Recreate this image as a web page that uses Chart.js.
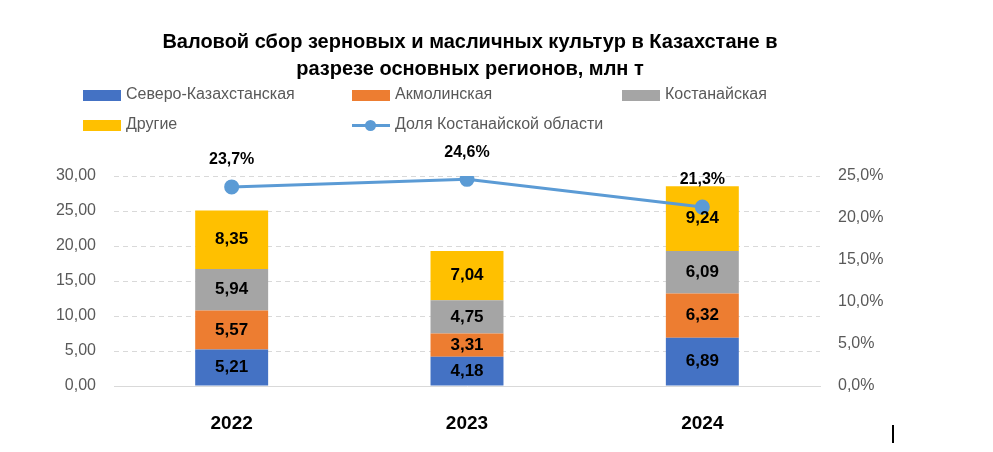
<!DOCTYPE html>
<html>
<head>
<meta charset="utf-8">
<script src="https://cdn.jsdelivr.net/npm/chart.js@4"></script>
<style>
  body { margin: 0; background: #fff; }
  #wrap { position: relative; width: 993px; height: 452px; font-family: "Liberation Sans", Arial, sans-serif; }
  #title { position: absolute; left: 0; width: 940px; top: 28px; text-align: center; font-weight: bold; font-size: 20px; line-height: 27px; color: #000; }
  .leg { position: absolute; font-size: 16px; color: #595959; white-space: nowrap; }
  .sw { position: absolute; width: 38px; height: 11px; }
  .ln { position: absolute; width: 38px; height: 3px; }
  .dot { position: absolute; width: 11px; height: 11px; border-radius: 50%; }
  #cursor { position: absolute; left: 892px; top: 425px; width: 2px; height: 18px; background: #000; }
</style>
</head>
<body>
<div id="wrap">
  <canvas id="grain_chart" width="993" height="452"></canvas>
  <div id="title">Валовой сбор зерновых и масличных культур в Казахстане в<br>разрезе основных регионов, млн т</div>
  <div id="legend"></div>
  <div id="cursor"></div>
</div>
<script>
var years = ["2022", "2023", "2024"];
var north_kaz = [5.21, 4.18, 6.89];
var akmola = [5.57, 3.31, 6.32];
var kostanay = [5.94, 4.75, 6.09];
var others = [8.35, 7.04, 9.24];
var kostanay_share = [23.7, 24.6, 21.3];

var tickColor = "#595959";
var gridColor = "#d9d9d9";

function fmtNum(v, d) {
  return v.toFixed(d).replace(".", ",");
}

// draws values inside bars and above the line points
var valueLabels = {
  id: "valueLabels",
  afterDatasetsDraw: function (chart) {
    var ctx = chart.ctx;
    ctx.save();
    ctx.textAlign = "center";
    ctx.textBaseline = "middle";
    ctx.fillStyle = "#000";
    chart.data.datasets.forEach(function (ds, i) {
      var meta = chart.getDatasetMeta(i);
      meta.data.forEach(function (el, j) {
        if (ds.type === "line") {
          ctx.font = "bold 16px 'Liberation Sans', Arial, sans-serif";
          ctx.fillText(fmtNum(ds.data[j], 1) + "%", el.x, el.y - 27);
        } else {
          ctx.font = "bold 17px 'Liberation Sans', Arial, sans-serif";
          ctx.fillText(fmtNum(ds.data[j], 2), el.x, (el.y + el.base) / 2);
        }
      });
    });
    ctx.restore();
  },
};

var chart = new Chart(document.getElementById("grain_chart"), {
  type: "bar",
  data: {
    labels: years,
    datasets: [
      { label: "Северо-Казахстанская", data: north_kaz, backgroundColor: "#4472C4", order: 1 },
      { label: "Акмолинская", data: akmola, backgroundColor: "#ED7D31", order: 1 },
      { label: "Костанайская", data: kostanay, backgroundColor: "#A5A5A5", order: 1 },
      { label: "Другие", data: others, backgroundColor: "#FFC000", order: 1 },
      {
        type: "line",
        label: "Доля Костанайской области",
        data: kostanay_share,
        yAxisID: "y1",
        borderColor: "#5B9BD5",
        backgroundColor: "#5B9BD5",
        borderWidth: 3,
        pointRadius: 6,
        pointBackgroundColor: "#5B9BD5",
        pointBorderColor: "#5B9BD5",
        tension: 0,
        order: 0,
      },
    ],
  },
  options: {
    responsive: false,
    animation: false,
    barPercentage: 0.31,
    categoryPercentage: 1,
    layout: { padding: { top: 176, left: 0, right: 0, bottom: 0 } },
    plugins: {
      legend: { display: false },
      title: { display: false },
      tooltip: { enabled: false },
    },
    scales: {
      x: {
        stacked: true,
        grid: { display: false },
        border: { display: true, color: gridColor, width: 1 },
        ticks: {
          color: "#000",
          padding: 18,
          font: { family: "'Liberation Sans', Arial, sans-serif", size: 19, weight: "bold" },
        },
        afterFit: function (axis) { axis.height = 66; },
      },
      y: {
        stacked: true,
        min: 0,
        max: 30,
        ticks: {
          stepSize: 5,
          color: tickColor,
          padding: 18,
          font: { family: "'Liberation Sans', Arial, sans-serif", size: 16 },
          callback: function (v) { return fmtNum(v, 2); },
        },
        grid: {
          drawTicks: false,
          color: function (c) { return c.tick.value === 0 ? "rgba(0,0,0,0)" : gridColor; },
        },
        border: { display: false, dash: [5, 4] },
        afterFit: function (axis) { axis.width = 114; },
      },
      y1: {
        position: "right",
        min: 0,
        max: 25,
        ticks: {
          stepSize: 5,
          color: tickColor,
          padding: 18,
          font: { family: "'Liberation Sans', Arial, sans-serif", size: 16 },
          callback: function (v) { return fmtNum(v, 1) + "%"; },
        },
        grid: { display: false, drawTicks: false },
        border: { display: false },
        afterFit: function (axis) { axis.width = 173; },
      },
    },
  },
  plugins: [valueLabels],
});

// html legend laid out like the original (3 + 2 items)
var legendSlots = [
  { x: 83, y: 95 }, { x: 352, y: 95 }, { x: 622, y: 95 },
  { x: 83, y: 125 }, { x: 352, y: 125 },
];
var legend = document.getElementById("legend");
chart.data.datasets.forEach(function (ds, i) {
  var slot = legendSlots[i];
  if (ds.type === "line") {
    var ln = document.createElement("div");
    ln.className = "ln";
    ln.style.left = slot.x + "px";
    ln.style.top = slot.y - 1 + "px";
    ln.style.background = ds.borderColor;
    legend.appendChild(ln);
    var dot = document.createElement("div");
    dot.className = "dot";
    dot.style.left = slot.x + 13 + "px";
    dot.style.top = slot.y - 5 + "px";
    dot.style.background = ds.borderColor;
    legend.appendChild(dot);
  } else {
    var sw = document.createElement("div");
    sw.className = "sw";
    sw.style.left = slot.x + "px";
    sw.style.top = slot.y - 5 + "px";
    sw.style.background = ds.backgroundColor;
    legend.appendChild(sw);
  }
  var txt = document.createElement("div");
  txt.className = "leg";
  txt.style.left = slot.x + 43 + "px";
  txt.style.top = slot.y - 10 + "px";
  txt.textContent = ds.label;
  legend.appendChild(txt);
});
</script>
</body>
</html>
